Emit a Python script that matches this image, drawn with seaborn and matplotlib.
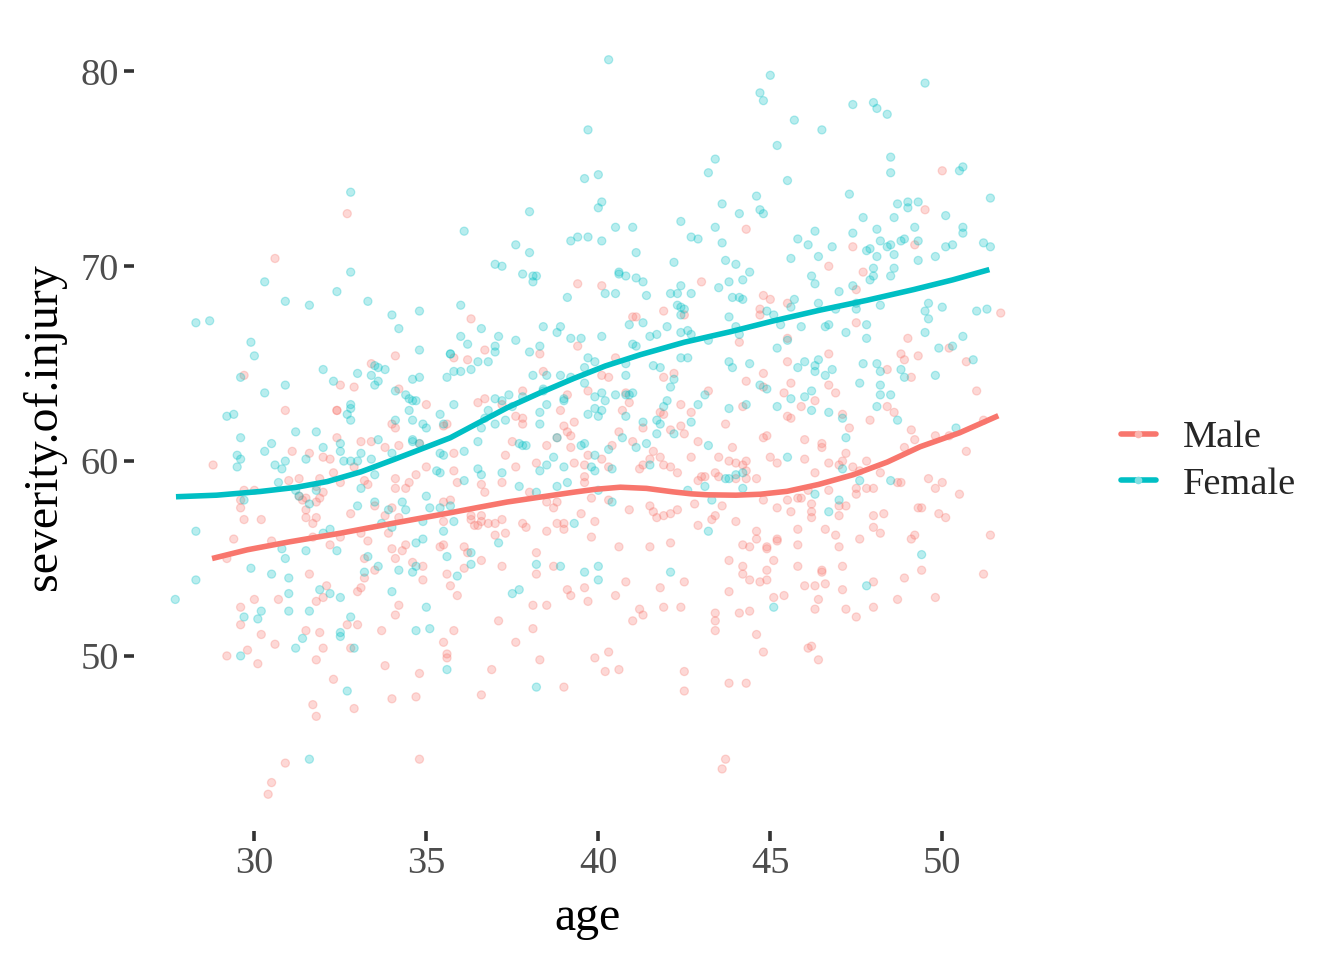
import matplotlib
matplotlib.use("Agg")
import matplotlib.pyplot as plt
import seaborn as sns
import pandas as pd
from matplotlib.lines import Line2D

# ---------------- data ----------------
female_points = [
    (32.8,73.8),(32.8,69.7),(30.3,69.2),
    (40.3,80.6),(39.7,77.0),(39.6,74.5),(40.0,74.7),(38.0,72.8),(36.1,71.8),(40.0,73.0),(40.1,73.3),
    (40.5,72.0),(41.0,72.0),(39.2,71.3),(39.4,71.5),(39.7,71.5),(40.1,71.3),(37.6,71.1),(38.0,70.7),
    (37.0,70.1),(37.2,70.0),(37.8,69.6),(38.1,69.5),(38.2,69.5),(38.1,69.2),(40.6,69.7),(40.6,69.6),
    (40.8,69.5),(41.1,69.4),(41.3,69.2),(41.1,70.7),(42.4,72.3),(42.2,70.2),(42.7,71.5),(42.9,71.4),
    (43.4,75.5),(43.2,74.8),(43.4,72.0),(43.5,68.9),(42.4,69.0),
    (45.0,79.8),(44.7,78.9),(44.8,78.5),(49.5,79.4),(47.4,78.3),(48.0,78.4),(48.1,78.1),(48.4,77.8),
    (45.7,77.5),(46.5,77.0),(45.2,76.2),(48.5,75.6),(48.5,74.8),(50.6,75.1),(50.5,74.9),(45.5,74.4),
    (47.3,73.7),(51.4,73.5),(44.6,73.6),(43.6,73.2),(44.7,72.9),(44.8,72.7),(44.1,72.7),(48.7,73.2),
    (49.0,73.3),(49.3,73.3),(49.0,73.0),(47.7,72.5),(48.6,72.5),(50.1,72.6),(49.2,72.0),(50.6,72.0),
    (50.6,71.7),(48.1,71.9),(46.3,71.8),(45.8,71.4),(46.1,71.1),(46.8,71.0),(47.4,71.7),(48.2,71.3),
    (48.4,71.0),(48.5,71.1),(48.8,71.3),(48.9,71.4),(49.3,71.3),(48.6,70.6),(47.9,70.9),(47.8,70.8),
    (48.1,70.5),(49.3,70.3),(49.8,70.5),(50.1,71.0),(50.3,71.1),(51.2,71.2),(51.4,71.0),(43.6,71.2),
    (43.7,70.3),(44.0,70.1),(45.6,70.4),(46.4,70.5),(44.4,69.7),(44.2,69.3),(43.8,69.2),(46.2,69.5),
    (46.3,69.1),(48.0,69.9),(48.0,69.5),(47.9,69.3),(48.6,69.9),(48.5,69.5),(47.4,69.0),
    (28.3,67.1),(28.7,67.2),(30.9,68.2),(31.6,68.0),(32.4,68.7),(33.3,68.2),(34.0,67.5),(34.8,67.7),
    (34.2,66.8),(29.9,66.1),(30.0,65.4),(34.8,65.7),(35.7,65.5),(32.0,64.7),(29.6,64.3),(30.9,63.9),
    (30.3,63.5),(32.3,64.1),(33.0,64.5),(33.4,64.4),(33.5,64.9),(33.6,64.8),(33.8,64.7),(33.6,64.1),
    (33.5,63.9),(34.6,64.2),(34.8,64.3),(35.6,64.3),(34.1,63.6),(34.4,63.4),(34.5,63.2),(34.6,63.1),
    (34.7,63.1),(34.5,62.6),(35.4,62.4),(35.5,61.9),(32.8,62.9),(32.8,62.7),(32.7,62.4),(32.8,62.1),
    (29.2,62.3),(29.4,62.4),(34.1,62.1),(34.6,62.1),(34.9,61.9),(35.0,61.7),(29.6,61.2),(31.2,61.5),
    (31.8,61.5),(30.5,60.9),(30.3,60.5),(32.0,60.7),(32.5,60.9),(32.5,60.5),(33.6,61.1),(34.6,61.1),
    (34.6,61.0),(34.8,60.9),(29.5,60.3),(29.6,60.1),(29.5,59.7),(30.9,60.0),(30.6,59.8),(30.8,59.6),
    (31.5,60.1),(33.1,60.4),(32.6,60.0),(32.8,60.0),(33.0,60.0),(33.4,60.1),(34.0,60.4),(35.4,60.4),
    (35.5,60.3),(35.3,59.5),(35.4,59.4),(33.5,59.3),(30.7,58.9),(31.2,58.5),(31.3,58.2),(33.1,58.6),
    (31.8,58.5),(31.6,57.8),(29.7,58.0),(33.0,57.7),(33.5,57.9),(33.9,57.5),(34.3,57.9),(34.4,57.5),
    (35.0,58.2),(35.1,57.6),(35.4,57.6),(33.7,56.8),(34.0,56.6),(34.9,56.9),(35.5,56.4),(28.3,56.4),
    (32.0,56.3),(32.2,56.5),(34.7,55.8),(34.9,56.0),(31.5,55.4),
    (39.1,68.4),(40.2,68.6),(40.5,68.6),(41.4,68.5),(42.1,68.6),(42.3,68.6),(42.7,68.6),(42.3,68.0),
    (42.4,67.9),(42.5,67.8),(42.4,67.5),(36.0,68.0),(36.6,66.8),(36.0,66.4),(36.2,66.0),(37.1,66.4),
    (37.0,65.9),(37.0,65.6),(37.6,66.2),(38.4,66.9),(38.8,66.6),(38.9,66.9),(39.2,66.3),(39.5,66.3),
    (40.1,66.4),(38.3,65.9),(38.0,65.6),(40.9,67.0),(41.3,67.1),(42.0,66.9),(42.4,66.6),(42.6,66.7),
    (42.7,66.5),(43.2,66.2),(41.5,66.4),(41.7,66.5),(41.0,66.0),(41.1,65.9),(35.7,65.5),(36.5,65.1),
    (36.8,65.1),(36.3,64.7),(35.8,64.6),(36.0,64.6),(39.7,65.3),(39.9,65.1),(39.6,64.8),(39.2,64.3),
    (39.6,64.0),(38.5,64.4),(38.9,64.4),(38.1,64.4),(40.8,64.4),(40.8,65.0),(41.6,64.9),(41.8,64.8),
    (42.2,64.2),(42.1,63.8),(42.4,65.3),(42.6,65.3),(38.4,63.7),(38.4,63.6),(37.8,63.3),(37.4,63.4),
    (37.0,63.2),(37.2,63.1),(35.8,62.9),(38.5,62.9),(39.0,63.2),(39.0,63.1),(39.9,63.3),(40.1,63.5),
    (40.2,63.1),(40.5,63.4),(40.8,63.4),(40.9,63.4),(41.0,63.5),(42.0,63.1),(41.9,62.8),(42.9,62.9),
    (43.1,63.4),(36.8,62.6),(37.5,62.8),(38.3,62.5),(39.9,62.7),(40.1,62.6),(39.7,62.4),(40.0,62.3),
    (40.8,62.3),(37.3,62.1),(37.0,61.9),(36.6,61.7),(36.7,62.2),(38.3,61.9),(41.3,62.0),(41.7,62.1),
    (41.8,61.9),(42.7,62.0),(42.2,61.4),(41.7,61.4),(40.7,61.2),(36.5,61.0),(37.7,60.9),(37.8,60.8),
    (37.9,60.8),(38.8,61.2),(39.5,60.8),(39.6,60.9),(40.3,60.6),(41.1,60.7),(41.4,60.9),(43.2,60.8),
    (36.1,60.5),(36.5,59.6),(36.6,59.3),(37.2,59.4),(38.3,59.5),(38.5,59.8),(38.7,60.2),(39.0,59.7),
    (39.9,60.3),(39.8,59.7),(39.9,59.5),(40.4,59.6),(41.5,59.8),(36.1,59.0),(37.7,58.7),(38.2,58.4),
    (38.8,58.7),(39.1,58.9),(40.0,58.5),(40.4,57.9),(42.6,58.5),(43.1,58.7),(43.3,58.0),(43.7,59.1),
    (35.7,57.7),(35.8,56.9),(39.3,56.8),(43.2,56.4),(37.1,55.8),
    (43.9,68.4),(44.1,68.4),(44.2,68.3),(45.7,68.3),(45.6,67.9),(44.9,67.7),(45.1,67.5),(43.8,67.4),
    (46.4,68.1),(46.9,67.8),(47.5,67.8),(47.5,68.1),(48.2,68.0),(47.0,68.7),(49.6,68.1),(50.0,67.9),
    (49.5,67.7),(49.6,67.3),(51.0,67.7),(51.3,67.8),(44.0,66.9),(44.1,66.5),(45.3,67.0),(45.9,66.9),
    (46.6,66.9),(46.7,67.0),(47.2,66.6),(47.8,67.0),(47.8,66.3),(49.5,66.6),(45.5,66.2),(45.2,65.8),
    (49.9,65.8),(50.3,65.9),(50.6,66.4),(50.9,65.2),(43.8,65.1),(43.9,64.8),(44.4,65.0),(45.8,64.8),
    (46.0,65.1),(46.4,65.2),(46.3,64.9),(46.3,64.6),(46.6,64.4),(46.8,64.7),(47.7,65.0),(48.1,65.0),
    (48.2,64.6),(48.8,64.7),(48.9,64.3),(49.8,64.4),(47.6,64.0),(48.2,63.9),(48.2,63.4),(48.5,63.4),
    (48.1,62.8),(44.7,63.9),(44.9,63.7),(46.2,63.6),(46.0,63.3),(45.6,63.2),(45.2,62.8),(46.2,62.6),
    (46.7,62.5),(44.3,62.9),(43.8,62.7),(47.1,62.2),(48.7,62.1),(47.2,61.2),(50.4,61.7),(45.5,60.2),
    (44.2,59.4),(44.0,59.3),(43.8,59.1),(47.1,59.6),(47.6,59.0),(48.5,59.0),(44.2,58.6),(46.3,58.3),
    (47.0,58.0),(46.7,57.4),
    (28.3,53.9),(27.7,52.9),(29.9,54.5),(30.9,55.0),(30.5,54.2),(31.0,54.0),(30.8,55.5),(32.4,55.4),
    (31.0,53.2),(31.9,53.4),(32.2,53.2),(32.5,53.0),(30.2,52.3),(29.7,52.0),(30.1,51.9),(31.0,52.3),
    (31.6,52.3),(32.8,52.0),(32.5,51.2),(32.5,51.0),(31.4,50.9),(31.2,50.4),(29.6,50.0),(32.9,50.4),
    (33.3,55.1),(33.2,54.3),(33.6,54.6),(34.2,54.4),(34.7,54.6),(34.6,54.3),(34.0,53.3),(35.0,52.5),
    (34.7,51.3),(35.1,51.4),(35.6,49.3),(35.6,55.1),(32.7,48.2),(31.6,44.7),
    (36.3,55.3),(36.3,54.7),(35.9,54.1),(37.5,53.2),(37.7,53.4),(38.2,54.7),(38.9,54.6),(39.6,54.3),
    (40.0,54.6),(40.0,53.9),(42.1,54.3),(38.2,48.4),
    (49.4,55.2),(47.8,53.6),(45.1,52.5),
]

male_points = [
    (32.7,72.7),(30.6,70.4),
    (39.4,69.1),(40.1,69.0),(43.0,69.2),
    (50.0,74.9),(49.5,72.9),(44.3,71.9),(47.4,71.0),(49.2,71.1),(46.7,70.0),(47.7,69.7),(47.5,68.8),
    (29.7,64.4),(34.1,65.4),(33.4,65.0),(32.5,63.9),(32.9,63.8),(34.2,63.7),(30.9,62.6),(32.4,62.6),
    (32.4,62.6),(35.0,62.9),(34.0,61.9),(34.1,61.7),(32.4,61.2),(33.1,61.0),(33.4,61.0),(33.8,60.7),
    (34.2,60.8),(34.8,60.9),(31.1,60.5),(31.6,60.4),(32.0,60.2),(32.2,60.1),(28.8,59.8),(32.9,59.7),
    (35.0,59.7),(32.3,59.4),(31.9,59.1),(31.0,59.0),(31.3,59.1),(32.5,58.9),(33.2,59.0),(33.3,58.8),
    (34.1,59.1),(34.7,59.3),(34.5,58.9),(34.4,58.6),(34.1,58.6),(29.7,58.5),(30.0,58.5),(31.8,58.7),
    (32.0,58.4),(31.3,58.2),(31.5,58.1),(31.9,58.1),(31.4,58.0),(31.8,57.9),(29.6,58.0),(29.6,57.6),
    (31.5,57.5),(31.5,57.1),(31.8,57.1),(31.7,56.8),(29.7,57.0),(30.2,57.0),(32.8,57.3),(33.5,57.7),
    (34.0,57.6),(34.2,57.1),(33.8,57.2),(29.4,56.0),(30.5,55.9),(31.7,56.1),(32.5,56.1),(33.1,56.3),
    (33.3,55.9),(33.9,56.3),(34.4,55.7),(34.0,55.5),(35.4,55.6),(35.5,56.9),(35.5,57.9),(35.7,58.0),
    (36.3,67.3),(41.0,67.4),(41.1,67.4),(41.9,67.7),(42.5,67.5),(39.4,65.9),(38.3,65.5),(36.7,65.7),
    (35.8,65.3),(36.2,65.2),(40.5,65.3),(38.4,64.6),(40.1,64.4),(40.3,64.3),(41.9,64.3),(42.2,64.5),
    (43.2,63.6),(37.8,63.6),(36.7,63.2),(36.5,63.0),(37.2,62.9),(39.1,63.4),(39.7,63.6),(40.9,63.0),
    (40.8,63.5),(40.7,62.6),(38.9,62.6),(37.6,62.3),(37.8,62.2),(37.8,61.9),(39.3,62.0),(39.0,61.8),
    (39.1,61.5),(39.2,61.3),(38.8,61.2),(40.6,61.5),(41.0,61.0),(41.9,62.4),(41.8,62.5),(42.4,62.9),
    (42.7,62.5),(42.4,61.8),(42.5,61.4),(42.1,61.6),(41.3,61.7),(42.9,61.0),(35.5,61.8),(35.6,61.9),
    (37.5,61.0),(38.5,60.8),(39.2,60.7),(40.4,60.8),(39.7,60.3),(37.3,60.3),(35.8,60.4),(38.2,59.9),
    (39.3,59.9),(39.6,59.8),(37.6,59.7),(40.1,60.1),(40.3,59.7),(41.3,59.8),(41.2,59.6),(41.6,60.5),
    (41.8,60.2),(41.5,60.1),(41.9,59.8),(42.1,59.7),(42.3,59.4),(42.7,60.2),(43.5,60.2),(35.8,59.5),
    (35.9,58.9),(36.6,58.8),(36.7,58.4),(37.2,58.9),(39.6,59.2),(39.6,58.9),(42.9,59.0),(43.0,59.2),
    (43.1,59.2),(43.4,59.4),(38.0,58.4),(38.5,57.9),(38.8,57.9),(38.7,57.6),(39.5,57.3),(39.8,58.1),
    (40.3,58.0),(40.9,57.5),(41.6,57.4),(41.5,57.7),(41.7,57.1),(41.9,57.2),(42.1,57.3),(42.3,57.5),
    (42.8,57.8),(43.3,57.0),(43.4,57.2),(36.3,57.2),(36.6,57.2),(36.3,57.0),(36.6,56.9),(36.8,56.8),
    (37.0,56.8),(37.2,57.0),(36.4,56.7),(36.5,56.7),(37.8,56.8),(37.9,56.6),(38.8,56.8),(39.0,56.8),
    (39.0,56.5),(39.9,56.9),(37.0,56.2),(37.3,56.3),(38.5,56.4),(39.8,56.1),(42.1,55.8),(42.9,56.7),
    (36.1,55.6),(40.6,55.6),(41.5,55.6),
    (44.8,68.5),(45.0,68.3),(45.5,68.1),(44.7,67.8),(44.7,67.5),(47.5,67.1),(51.7,67.6),(44.1,66.1),
    (45.5,66.3),(49.0,66.3),(46.7,65.5),(45.5,65.1),(44.8,64.5),(48.8,65.5),(48.9,65.2),(49.3,65.4),
    (50.2,65.8),(50.7,65.1),(48.4,64.7),(49.1,64.3),(44.3,64.1),(45.6,64.0),(46.7,63.9),(46.9,63.5),
    (45.4,63.5),(44.8,63.8),(46.3,63.1),(45.9,62.8),(44.2,62.8),(48.4,62.8),(48.6,62.5),(47.1,62.4),
    (45.5,62.3),(45.6,62.2),(47.9,62.1),(51.0,63.6),(51.2,62.1),(43.7,61.9),(47.3,61.7),(49.1,61.6),
    (49.2,61.1),(49.8,61.3),(50.2,61.3),(50.7,60.5),(48.9,60.7),(44.8,61.2),(44.9,61.3),(46.0,61.1),
    (46.5,60.9),(46.5,60.7),(43.9,60.7),(47.2,60.4),(45.0,60.2),(45.2,59.9),(46.0,60.1),(46.7,59.9),
    (47.0,59.8),(47.1,60.0),(47.4,59.7),(47.8,60.0),(48.2,59.4),(47.6,59.5),(43.8,60.0),(44.0,59.9),
    (44.2,59.8),(44.3,60.0),(44.3,59.5),(43.5,59.2),(44.0,59.1),(44.3,59.1),(44.6,59.1),(46.3,59.4),
    (48.7,58.9),(48.8,58.9),(49.6,59.1),(50.0,58.9),(49.8,58.6),(50.5,58.3),(47.5,58.6),(47.5,58.3),
    (47.8,58.6),(48.0,58.6),(46.7,58.5),(46.1,58.5),(45.8,58.1),(45.9,58.1),(45.5,58.0),(44.8,58.0),
    (45.2,57.6),(45.6,57.4),(46.2,57.8),(46.2,57.4),(46.2,57.1),(47.0,57.7),(47.2,57.7),(47.0,57.2),
    (48.0,57.2),(48.3,57.3),(48.0,56.6),(48.2,56.3),(49.3,57.6),(49.4,57.6),(49.9,57.3),(50.1,57.1),
    (44.0,56.9),(43.6,57.7),(45.8,56.5),(46.6,56.5),(46.9,56.2),(44.6,56.4),(44.6,56.0),(45.2,56.0),
    (45.2,55.9),(47.6,56.0),(49.2,56.2),(49.1,56.0),(51.4,56.2),(44.2,55.7),(44.4,55.6),(45.8,55.7),
    (47.0,55.6),(44.9,55.6),(44.9,55.5),
    (31.6,54.2),(32.1,53.6),(31.8,52.8),(32.0,53.0),(30.7,52.9),(30.0,52.9),(29.6,52.5),(29.6,51.6),
    (30.2,51.1),(30.6,50.6),(29.8,50.3),(29.2,50.0),(30.1,49.6),(31.5,51.3),(31.9,51.2),(32.0,50.4),
    (31.8,49.8),(32.7,51.6),(33.0,51.6),(32.8,50.4),(33.0,53.3),(33.1,53.5),(33.2,54.0),(33.5,54.4),
    (33.2,55.0),(34.1,55.0),(34.3,55.4),(34.6,54.8),(34.9,54.6),(34.9,53.9),(34.2,52.6),(34.1,52.1),
    (33.7,51.3),(33.8,49.5),(32.3,48.8),(31.7,47.5),(31.8,46.9),(32.9,47.3),(34.0,47.8),(34.7,47.9),
    (34.8,49.1),(34.8,44.7),(30.9,44.5),(30.5,43.5),(30.4,42.9),(35.6,54.2),(35.7,53.6),(35.5,50.7),
    (35.6,50.1),(35.6,49.9),(29.2,55.0),(32.2,55.7),
    (35.5,55.7),(36.2,55.3),(36.1,54.5),(36.6,54.9),(37.2,54.6),(35.9,53.1),(38.2,55.3),(38.2,54.2),
    (38.7,54.6),(39.1,53.4),(39.2,53.1),(39.6,53.5),(39.7,52.8),(40.5,53.1),(40.8,53.8),(41.8,53.5),
    (42.5,53.8),(38.1,52.6),(38.5,52.6),(41.2,52.4),(41.3,52.1),(41.0,51.8),(41.9,52.5),(42.4,52.5),
    (43.4,52.2),(43.4,51.8),(43.4,51.3),(43.8,54.9),(43.8,53.3),(37.1,51.8),(38.1,51.4),(35.8,51.3),
    (37.6,50.7),(38.3,49.8),(39.9,49.9),(40.3,50.2),(40.2,49.2),(40.6,49.3),(36.9,49.3),(39.0,48.4),
    (36.6,48.0),(42.5,49.2),(42.5,48.2),(43.7,44.7),(43.6,44.2),(43.8,48.6),
    (44.2,54.6),(44.2,54.2),(44.4,53.9),(44.7,53.8),(44.9,54.4),(44.9,53.9),(45.1,54.9),(45.8,54.6),
    (46.5,54.4),(46.5,54.3),(47.1,54.6),(46.0,53.6),(46.3,53.6),(46.6,53.7),(47.1,53.4),(48.0,53.8),
    (48.9,54.0),(49.4,54.4),(51.2,54.2),(45.1,53.0),(45.4,53.1),(46.4,52.9),(46.3,52.4),(47.2,52.4),
    (48.0,52.5),(47.5,52.0),(48.7,52.9),(49.8,53.0),(44.1,52.2),(44.4,52.3),(44.6,51.1),(44.8,50.2),
    (46.1,50.4),(46.2,50.5),(46.4,49.8),(44.3,48.6),
]

# smoothed (loess) curves
male_curve_age = [28.77, 29.8, 31.0, 32.5, 34.0, 35.7, 36.5, 37.35, 38.3, 39.27, 39.9, 40.64,
                  41.4, 42.18, 42.7, 43.17, 44.0, 44.71, 45.49, 46.4, 47.41, 48.4, 49.36, 50.5, 51.63]
male_curve_sev = [55.0, 55.45, 55.85, 56.3, 56.8, 57.35, 57.62, 57.9, 58.15, 58.4, 58.55, 58.66,
                  58.6, 58.42, 58.32, 58.27, 58.25, 58.3, 58.45, 58.8, 59.3, 59.95, 60.74, 61.45, 62.33]
female_curve_age = [27.72, 28.9, 30.17, 31.2, 32.12, 33.1, 34.04, 35.0, 35.7, 36.5, 37.35, 38.3,
                    39.27, 40.2, 41.22, 42.5, 43.84, 45.1, 46.45, 47.8, 49.16, 50.3, 51.37]
female_curve_sev = [58.17, 58.25, 58.44, 58.65, 58.95, 59.45, 60.07, 60.72, 61.2, 61.95, 62.74, 63.5,
                    64.23, 64.88, 65.46, 66.1, 66.64, 67.2, 67.75, 68.25, 68.8, 69.3, 69.83]

groups = ["Male", "Female"]
colors = {"Male": "#F8766D", "Female": "#00BFC4"}
light = {"Male": "#FBB5AF", "Female": "#80DFE2"}

# ---------------- build frames ----------------
male_age, male_sev = zip(*male_points)
female_age, female_sev = zip(*female_points)
pts = pd.DataFrame({
    "age": list(male_age) + list(female_age),
    "severity": list(male_sev) + list(female_sev),
    "sex": ["Male"] * len(male_age) + ["Female"] * len(female_age),
})
curves = pd.DataFrame({
    "age": male_curve_age + female_curve_age,
    "severity": male_curve_sev + female_curve_sev,
    "sex": ["Male"] * len(male_curve_age) + ["Female"] * len(female_curve_age),
})

# ---------------- style ----------------
sns.set_theme(style="white")
plt.rcParams["font.family"] = ["Liberation Serif", "DejaVu Serif"]

fig = plt.figure(figsize=(13.44, 9.6), dpi=100)
ax = fig.add_axes([134 / 1344, 1 - 831 / 960, (1042 - 134) / 1344, (831 - 23) / 960])

sns.scatterplot(data=pts, x="age", y="severity", hue="sex", hue_order=groups,
                palette=colors, s=34, alpha=0.28, edgecolor="face", linewidth=0.9,
                legend=False, ax=ax, zorder=2)
sns.lineplot(data=curves, x="age", y="severity", hue="sex", hue_order=groups,
             palette=colors, linewidth=4, estimator=None, sort=False,
             legend=False, ax=ax, zorder=3)
for ln in ax.lines:
    ln.set_solid_capstyle("butt")
    ln.set_solid_joinstyle("round")

# limits with ggplot-like 5% expansion
xmin, xmax = pts["age"].min(), pts["age"].max()
ymin, ymax = pts["severity"].min(), pts["severity"].max()
dx, dy = (xmax - xmin) * 0.05, (ymax - ymin) * 0.05
ax.set_xlim(xmin - dx, xmax + dx)
ax.set_ylim(ymin - dy, ymax + dy)

ax.set_xticks([30, 35, 40, 45, 50])
ax.set_yticks([50, 60, 70, 80])
for s in ax.spines.values():
    s.set_visible(False)
ax.grid(False)
ax.set_facecolor("white")
ax.tick_params(axis="both", which="major", length=7, width=2.6, color="#333333",
               labelcolor="#4D4D4D", labelsize=27.6, pad=4, bottom=True, left=True)

ax.set_xlabel("age", fontsize=34.5, color="black", labelpad=11)
ax.set_ylabel("severity.of.injury", fontsize=34.5, color="black", labelpad=10)

handles = [Line2D([0], [0], color=colors[g], lw=4, marker="o", markersize=4.5,
                  markerfacecolor=light[g], markeredgecolor=light[g]) for g in groups]
leg = fig.legend(handles=handles, labels=groups, loc="center left",
                 bbox_to_anchor=(1086 / 1344, 1 - 461 / 960), frameon=False,
                 fontsize=27.6, handlelength=0.92, handletextpad=0.72, labelspacing=0.3)

fig.savefig("out.png", dpi=100, facecolor="white")
